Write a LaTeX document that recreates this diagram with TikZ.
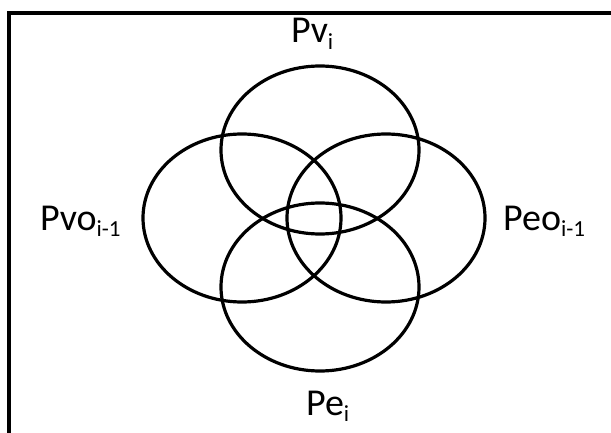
\documentclass[tikz,border=0pt]{standalone}
\usepackage{fontspec}
\setmainfont{Carlito}
\newcommand\lowidx[1]{\raisebox{-6.5pt}{\fontsize{23}{24}\selectfont #1}}
\begin{document}
\begin{tikzpicture}[x=1pt,y=-1pt,
  ring/.style={line width=3.2pt},
  lbl/.style={anchor=base west,inner sep=0pt,font=\fontsize{38}{40}\selectfont}]
  \useasboundingbox (0,0) rectangle (611,433);
  \draw[line width=3.6pt] (9,436) -- (9,13) -- (614,13);
  \draw[ring] (320,150) ellipse [x radius=99,y radius=84];
  \draw[ring] (242,218) ellipse [x radius=99,y radius=84];
  \draw[ring] (386,218) ellipse [x radius=99,y radius=84];
  \draw[ring] (320,287) ellipse [x radius=99,y radius=84];
  \node[lbl] (pv) at (291,43) {Pv\lowidx{i}};
  \node[lbl] (pvo) at (40,230) {Pvo\lowidx{i-1}};
  \node[lbl] (peo) at (503,230) {Peo\lowidx{i-1}};
  \node[lbl] (pe) at (306,415) {Pe\lowidx{i}};
\end{tikzpicture}
\end{document}
